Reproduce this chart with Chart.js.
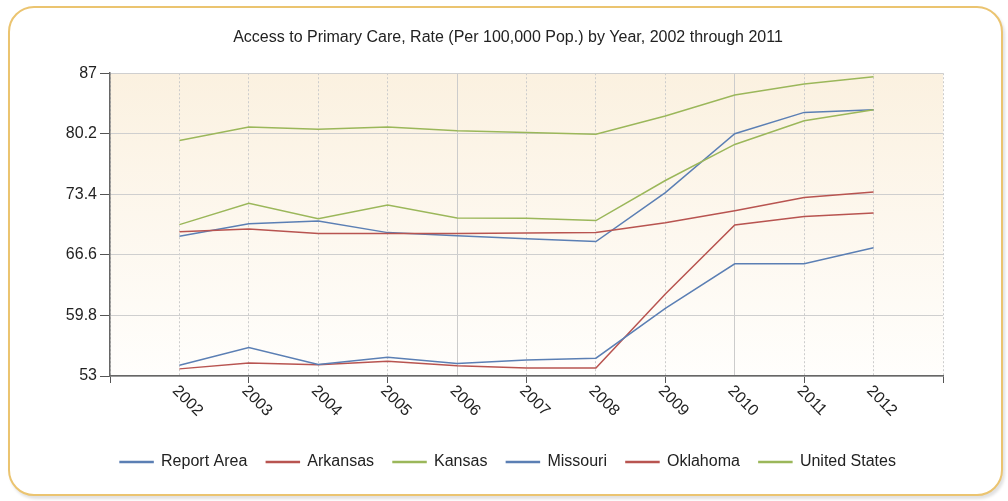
<!DOCTYPE html>
<html>
<head>
<meta charset="utf-8">
<title>Access to Primary Care</title>
<script src="https://cdn.jsdelivr.net/npm/chart.js@4"></script>
<style>
    body { margin: 0; background: #ffffff; }
    #wrap { position: relative; width: 1008px; height: 501px; overflow: hidden; }
    #frame {
        position: absolute; left: 8px; top: 6px; width: 991px; height: 486px;
        border: 2px solid #ebc470; border-radius: 26px; background: #ffffff;
        box-shadow: 2px 3px 3px rgba(0, 0, 0, 0.12);
    }
    #chart { position: absolute; left: 0; top: 0; }
</style>
</head>
<body>
<div id="wrap">
    <div id="frame"></div>
    <canvas id="chart" width="1008" height="501"></canvas>
</div>
<script>
// data
const years = [2002, 2003, 2004, 2005, 2006, 2007, 2008, 2009, 2010, 2011, 2012];
const yTicks = [53, 59.8, 66.6, 73.4, 80.2, 87];

const reportArea = [54.2, 56.2, 54.3, 55.1, 54.4, 54.8, 55.0, 60.6, 65.6, 65.6, 67.4];
const arkansas   = [69.2, 69.5, 69.0, 69.0, 69.0, 69.05, 69.1, 70.2, 71.55, 73.05, 73.65];
const kansas     = [70.0, 72.4, 70.65, 72.2, 70.75, 70.7, 70.45, 74.95, 79.0, 81.65, 82.9];
const missouri   = [68.7, 70.1, 70.4, 69.1, 68.75, 68.4, 68.1, 73.6, 80.2, 82.6, 82.9];
const oklahoma   = [53.8, 54.45, 54.25, 54.65, 54.15, 53.9, 53.9, 62.2, 69.95, 70.9, 71.3];
const unitedStates = [79.45, 80.95, 80.7, 80.95, 80.55, 80.35, 80.15, 82.2, 84.55, 85.8, 86.6];

const BLUE = '#5b7fb4';
const RED = '#b85450';
const GREEN = '#9bb75a';
const FONT = '"Liberation Sans", Arial, sans-serif';

function series(label, values, color) {
    return {
        label: label,
        data: values.map((v, i) => ({ x: years[i], y: v })),
        borderColor: color,
        backgroundColor: color,
        borderWidth: 1.5,
        pointRadius: 0,
        tension: 0
    };
}

// cream gradient behind the plot area
const plotBackground = {
    id: 'plotBackground',
    beforeDraw(chart) {
        const { ctx, chartArea: a } = chart;
        const g = ctx.createLinearGradient(0, a.top, 0, a.bottom);
        g.addColorStop(0, '#fbf1e0');
        g.addColorStop(1, '#fffefc');
        ctx.save();
        ctx.fillStyle = g;
        ctx.fillRect(a.left, a.top, a.right - a.left, a.bottom - a.top);
        ctx.restore();
    }
};

// year labels slanted down to the right, like the original
const slantedLabels = {
    id: 'slantedLabels',
    afterDraw(chart) {
        const { ctx, chartArea: a } = chart;
        const xs = chart.scales.x;
        ctx.save();
        ctx.font = '16px ' + FONT;
        ctx.fillStyle = '#222';
        ctx.textAlign = 'left';
        ctx.textBaseline = 'middle';
        years.forEach(yr => {
            const px = xs.getPixelForValue(yr);
            ctx.save();
            ctx.translate(px - 4.5, a.bottom + 12.5);
            ctx.rotate(Math.PI / 4);
            ctx.fillText(String(yr), 0, 0);
            ctx.restore();
        });
        ctx.restore();
    }
};

const isOdd = v => Math.round(v) % 2 === 1;

new Chart(document.getElementById('chart'), {
    type: 'line',
    data: {
        datasets: [
            series('Report Area', reportArea, BLUE),
            series('Arkansas', arkansas, RED),
            series('Kansas', kansas, GREEN),
            series('Missouri', missouri, BLUE),
            series('Oklahoma', oklahoma, RED),
            series('United States', unitedStates, GREEN)
        ]
    },
    options: {
        responsive: false,
        animation: false,
        layout: { padding: { left: 52, right: 44, top: 0, bottom: 21 } },
        plugins: {
            title: {
                display: true,
                text: 'Access to Primary Care, Rate (Per 100,000 Pop.) by Year, 2002 through 2011',
                color: '#222',
                font: { family: FONT, size: 16, weight: 'normal' },
                padding: { top: 28, bottom: 26 }
            },
            legend: {
                position: 'bottom',
                labels: {
                    color: '#222',
                    font: { family: FONT, size: 16 },
                    boxWidth: 33,
                    boxHeight: 1,
                    padding: 19
                }
            },
            tooltip: { enabled: false }
        },
        scales: {
            x: {
                type: 'linear',
                min: 2001,
                max: 2013,
                afterBuildTicks(scale) {
                    const t = [2001].concat(years, [2013]);
                    scale.ticks = t.map(v => ({ value: v }));
                },
                afterFit(scale) { scale.height = 59; },
                ticks: { display: false },
                grid: {
                    color: '#cccccc',
                    lineWidth: 1,
                    tickLength: 7,
                    tickColor: ctx => (ctx.tick && isOdd(ctx.tick.value)) ? '#555555' : 'rgba(0,0,0,0)'
                },
                border: {
                    color: '#666666',
                    width: 1.5,
                    dash: ctx => {
                        if (!ctx.tick) return [];
                        const v = Math.round(ctx.tick.value);
                        return (v === 2006 || v === 2010) ? [] : [2, 2];
                    }
                }
            },
            y: {
                min: 53,
                max: 87,
                afterBuildTicks(scale) {
                    scale.ticks = yTicks.map(v => ({ value: v }));
                },
                afterFit(scale) { scale.width = 58; },
                ticks: {
                    color: '#222',
                    font: { family: FONT, size: 16 },
                    padding: 3,
                    callback: v => String(v)
                },
                grid: {
                    color: '#cfcfcf',
                    lineWidth: 1,
                    tickLength: 10,
                    tickColor: '#555555'
                },
                border: { color: '#666666', width: 1.5 }
            },
            // empty box on the right so the title sits where the original has it
            spacer: {
                type: 'linear',
                position: 'right',
                display: true,
                afterFit(scale) { scale.width = 21; },
                ticks: { display: false },
                grid: { display: false, drawTicks: false },
                border: { display: false }
            }
        }
    },
    plugins: [plotBackground, slantedLabels]
});
</script>
</body>
</html>
